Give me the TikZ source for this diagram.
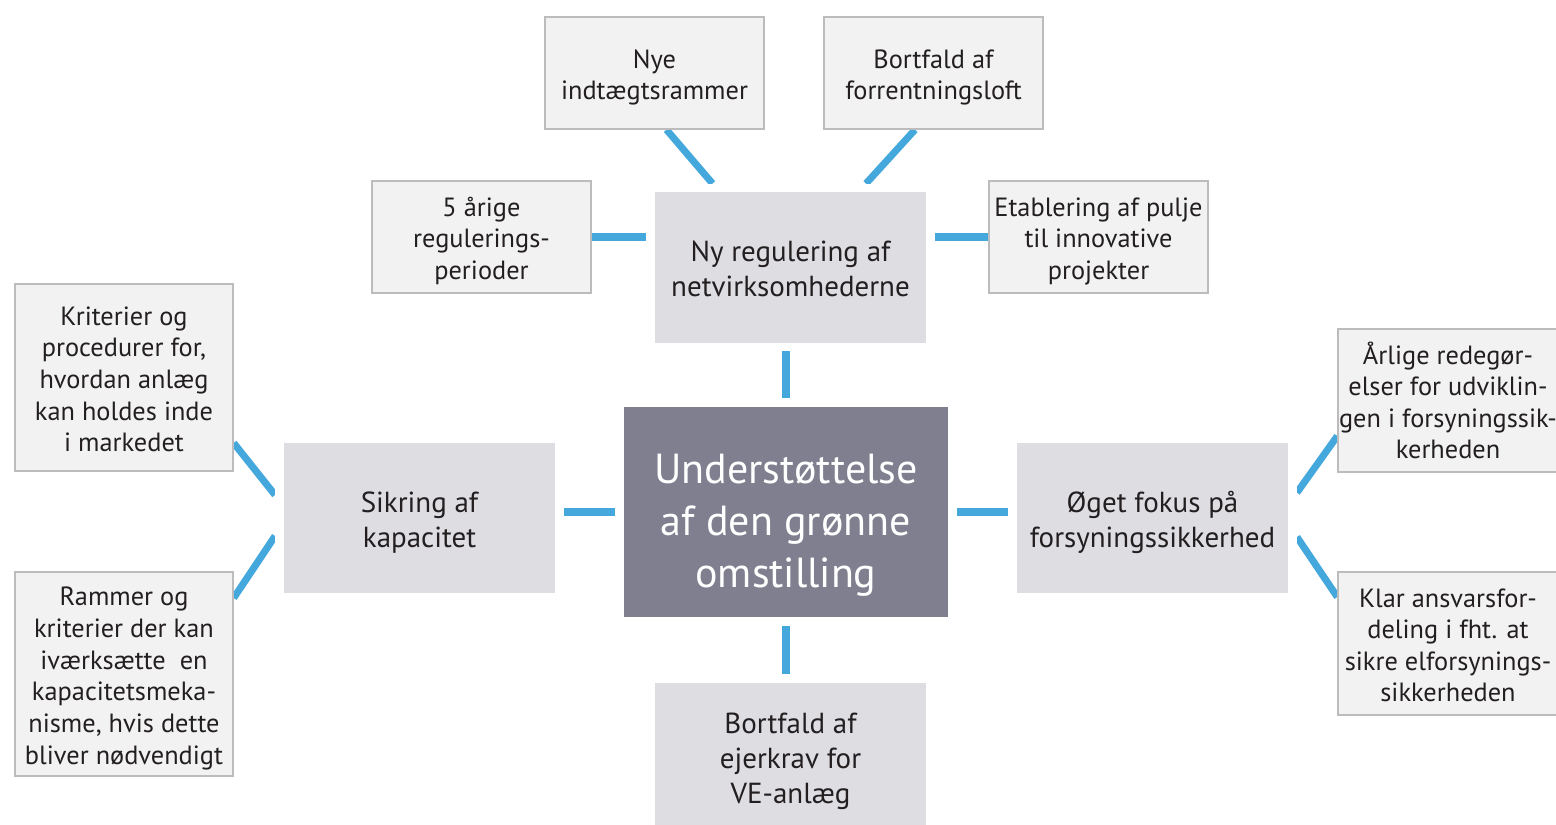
\documentclass[tikz,border=0pt]{standalone}
\usepackage{fontspec}
\setmainfont{PT Sans}
\usetikzlibrary{calc,backgrounds}
\definecolor{lineblue}{HTML}{45A8DC}
\definecolor{mainfill}{HTML}{7F7F8F}
\definecolor{midfill}{HTML}{DDDDE2}
\definecolor{smallfill}{HTML}{F2F2F2}
\definecolor{smallline}{HTML}{BCBCBC}
\definecolor{textgray}{HTML}{231F20}
\newlength\flh
\newcommand\fl{\rule{0pt}{\flh}}
\begin{document}
\begin{tikzpicture}[x=0.02cm,y=-0.02cm,
	smallbox/.style={rectangle,draw=smallline,line width=0.8pt,fill=smallfill,text=textgray,inner sep=0pt,align=center,minimum width=4.38cm,font=\fontsize{15}{18}\selectfont,
		execute at begin node={\setlength\flh{16.5pt}},execute at end node={\rule[-4pt]{0pt}{4pt}}},
	midbox/.style={rectangle,draw=white,line width=5.1pt,fill=midfill,text=textgray,inner sep=0pt,align=center,minimum width=5.6cm,minimum height=3.18cm,font=\fontsize{16.5}{19.8}\selectfont,
		execute at begin node={\setlength\flh{18pt}},execute at end node={\rule[-4.5pt]{0pt}{4.5pt}}},
	mainbox/.style={rectangle,draw=white,line width=5.1pt,fill=mainfill,text=white,inner sep=0pt,align=center,minimum width=6.66cm,minimum height=4.38cm,font=\fontsize{23.9}{29.5}\selectfont,
		execute at begin node={\setlength\flh{32.8pt}},execute at end node={\rule[-6pt]{0pt}{6pt}}},
	conn/.style={draw=lineblue,line width=4pt}]
	\useasboundingbox (0,0) rectangle (1556,825);
	% centre and the four themes
	\node[mainbox] (main) at (786,512) {\fl Understøttelse\\af den grønne\\omstilling};
	\node[midbox] (reg) at (790.5,267.5) {\fl Ny regulering af\\netvirksomhederne};
	\node[midbox] (sik) at (419.5,518) {\fl Sikring af\\kapacitet};
	\node[midbox] (oeget) at (1152.5,518) {\fl Øget fokus på\\forsyningssikkerhed};
	\node[midbox,minimum height=3.12cm] (ejer) at (790.5,756.5) {\fl Bortfald af\\ejerkrav for\\VE-anlæg};
	% details
	\node[smallbox,minimum height=2.24cm] (nye) at (654.5,73) {\fl Nye\\indtægtsrammer};
	\node[smallbox,minimum height=2.24cm] (forrent) at (933.5,73) {\fl Bortfald af\\forrentningsloft};
	\node[smallbox,minimum height=2.24cm] (aarige) at (481.5,237) {\fl 5 årige\\regulerings-\\perioder};
	\node[smallbox,minimum height=2.24cm] (pulje) at (1098.5,237) {\fl Etablering af pulje\\til innovative\\projekter};
	\node[smallbox,minimum width=4.36cm,minimum height=3.74cm] (krit) at (124,377.5) {\fl Kriterier og\\procedurer for,\\hvordan anlæg\\kan holdes inde\\i markedet};
	\node[smallbox,minimum width=4.36cm,minimum height=4.08cm] (rammer) at (124,674) {\fl Rammer og\\kriterier der kan\\iværksætte~ en\\kapacitetsmeka-\\nisme, hvis dette\\bliver nødvendigt};
	\node[smallbox,minimum width=4.4cm,minimum height=2.86cm] (aarlige) at (1448,400.5) {\fl Årlige redegør-\\elser for udviklin-\\gen i forsyningssik-\\kerheden};
	\node[smallbox,minimum width=4.4cm,minimum height=2.86cm] (klar) at (1448,643.5) {\fl Klar ansvarsfor-\\deling i fht. at\\sikre elforsynings-\\sikkerheden};
	\begin{pgfonlayer}{background}
		\draw[conn] (main.north) -- (main.north |- reg.south);
		\draw[conn] (main.south) -- (main.south |- ejer.north);
		\draw[conn] (main.west) -- (main.west -| sik.east);
		\draw[conn] (main.east) -- (main.east -| oeget.west);
		\draw[conn] (aarige.east) -- (aarige.east -| reg.west);
		\draw[conn] (pulje.west) -- (pulje.west -| reg.east);
		\draw[conn] ($(nye.south)+(12,0)$) -- ($(reg.north)+(-78,0)$);
		\draw[conn] ($(forrent.south)+(-18.5,0)$) -- ($(reg.north)+(75.5,0)$);
		\draw[conn] ($(krit.east)+(0,65.5)$) -- ($(sik.west)+(0,-23)$);
		\draw[conn] ($(rammer.east)+(0,-76)$) -- ($(sik.west)+(0,18)$);
		\draw[conn] ($(oeget.east)+(0,-25.4)$) -- ($(aarlige.west)+(0,35.5)$);
		\draw[conn] ($(oeget.east)+(0,19)$) -- ($(klar.west)+(0,-46.5)$);
	\end{pgfonlayer}
\end{tikzpicture}
\end{document}
